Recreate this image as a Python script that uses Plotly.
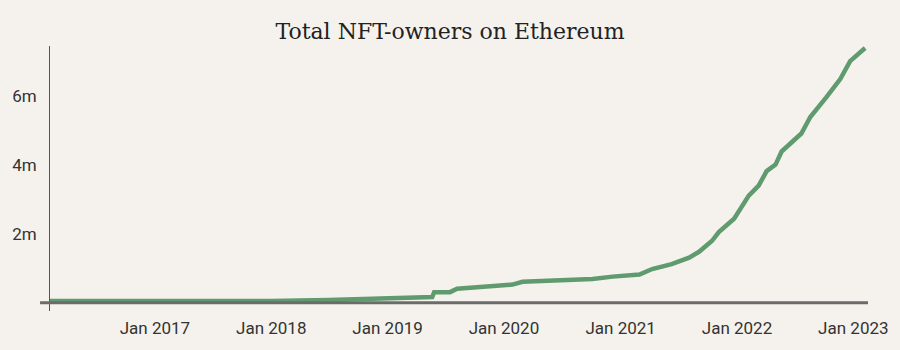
import plotly.graph_objects as go

dates = [
    "2016-02-07", "2016-09-01", "2017-06-01", "2018-01-01", "2018-07-01",
    "2019-02-10", "2019-04-07", "2019-05-21", "2019-05-27", "2019-07-16",
    "2019-08-07", "2019-11-01", "2020-01-28", "2020-02-28", "2020-08-20",
    "2020-10-05", "2020-12-07", "2021-03-01", "2021-04-10", "2021-06-10",
    "2021-08-04", "2021-09-04", "2021-10-15", "2021-11-05", "2021-12-23",
    "2022-02-07", "2022-03-10", "2022-04-04", "2022-05-02", "2022-05-21",
    "2022-07-22", "2022-08-19", "2022-10-08", "2022-11-21", "2022-12-22",
    "2023-02-07",
]
owners_m = [
    0.05, 0.05, 0.04, 0.05, 0.08,
    0.13, 0.14, 0.17, 0.31, 0.31,
    0.41, 0.47, 0.53, 0.61, 0.66,
    0.69, 0.76, 0.82, 0.98, 1.12,
    1.31, 1.48, 1.80, 2.05, 2.44,
    3.11, 3.40, 3.82, 4.01, 4.39,
    4.91, 5.39, 5.96, 6.49, 7.01,
    7.39,
]
owners = [v * 1e6 for v in owners_m]

title_text = "Total NFT-owners on Ethereum"
y_tickvals = [2e6, 4e6, 6e6]
y_ticktext = ["2m", "4m", "6m"]
x_tickvals = ["2017-01-01", "2018-01-01", "2019-01-01", "2020-01-01",
              "2021-01-01", "2022-01-01", "2023-01-01"]
x_ticktext = ["Jan 2017", "Jan 2018", "Jan 2019", "Jan 2020",
              "Jan 2021", "Jan 2022", "Jan 2023"]

bg = "#f5f2ed"
line_color = "#5f9b6e"
tick_font = dict(family="Roboto, sans-serif", size=17, color="#333333")

fig = go.Figure()
fig.add_trace(go.Scatter(
    x=dates, y=owners, mode="lines",
    line=dict(color=line_color, width=4.5),
    hoverinfo="skip", showlegend=False,
))

fig.update_layout(
    width=900, height=350,
    paper_bgcolor=bg, plot_bgcolor=bg,
    margin=dict(l=48, r=30, t=46, b=35),
    title=dict(text=title_text, x=0.5, xanchor="center", y=1 - 31 / 350, yanchor="middle",
               font=dict(family="DejaVu Serif", size=22, color="#222222")),
    xaxis=dict(
        type="date",
        range=["2016-02-07", "2023-02-16"],
        tickvals=x_tickvals, ticktext=x_ticktext,
        showgrid=False, zeroline=False, showline=False,
        ticks="", tickfont=tick_font, ticklabelstandoff=5,
        fixedrange=True,
    ),
    yaxis=dict(
        range=[-0.237e6, 7.449e6],
        tickvals=y_tickvals, ticktext=y_ticktext,
        showgrid=False, zeroline=False,
        showline=True, linecolor="#555555", linewidth=1,
        ticks="", tickfont=tick_font, ticklabelstandoff=9,
        fixedrange=True,
    ),
    shapes=[dict(
        type="line", xref="paper", yref="y",
        x0=-10 / 822, x1=1, y0=0, y1=0,
        line=dict(color="#6b6b6b", width=3), layer="above",
    )],
)

fig.write_html("out.html")
